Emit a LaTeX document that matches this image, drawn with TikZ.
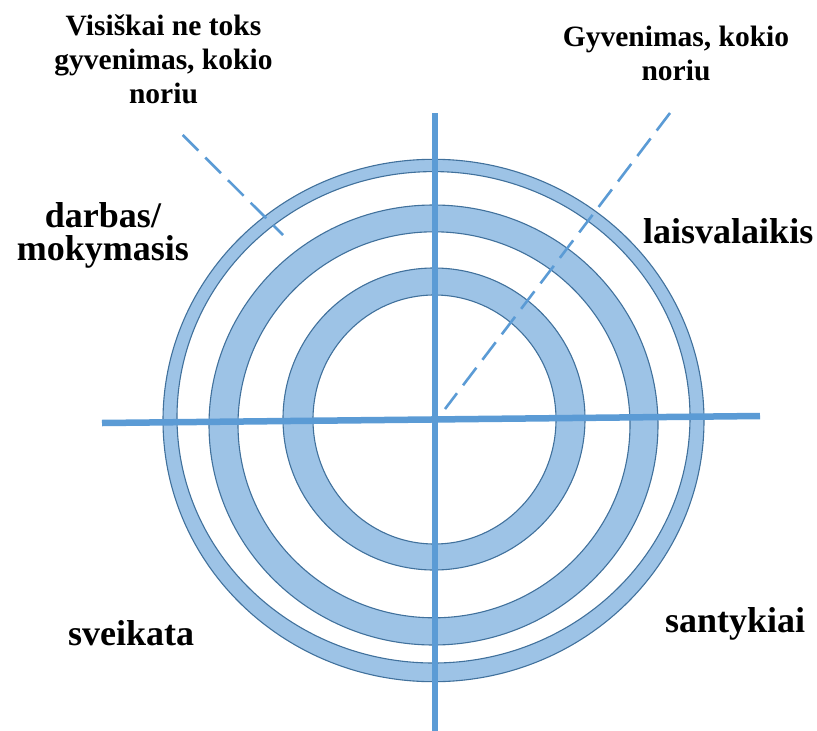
\documentclass[tikz,border=0pt]{standalone}
\usepackage{fontspec}
\setmainfont{Liberation Serif}
\definecolor{axisblue}{HTML}{5B9BD5}
\definecolor{ringfill}{HTML}{9DC3E6}
\definecolor{ringline}{HTML}{41719C}
\begin{document}
\begin{tikzpicture}[x=1pt,y=-1pt]
\tikzset{
  ring/.style={fill=ringfill, draw=ringline, line width=1.1pt, even odd rule},
  axisline/.style={draw=axisblue, line width=6.5pt},
  guide/.style={draw=axisblue, line width=2.6pt, dash pattern=on 22pt off 10pt},
  biglabel/.style={font=\bfseries\fontsize{36}{33}\selectfont, inner sep=0pt, align=center},
  smalllabel/.style={font=\bfseries\fontsize{29.5}{34}\selectfont, inner sep=0pt, align=center},
}
\useasboundingbox (0,0) rectangle (817,731);
% rings
\path[ring] (433.5,420.5) ellipse [x radius=270.5pt, y radius=261.2pt]
            (433.5,417.3) ellipse [x radius=256.5pt, y radius=245.7pt];
\path[ring] (433.5,425) ellipse [x radius=224.5pt, y radius=220pt]
            (434,424.8) ellipse [x radius=196pt, y radius=193pt];
\path[ring] (434,419) ellipse [x radius=151pt, y radius=151pt]
            (434.5,419.5) ellipse [x radius=121.5pt, y radius=124.5pt];
% axes
\coordinate (hl) at (102,423);
\coordinate (hr) at (760,416);
\coordinate (vt) at (435,113);
\coordinate (vb) at (435,731);
\draw[axisline] (hl) -- (hr);
\draw[axisline] (vt) -- (vb);
% dashed guides
\coordinate (g1a) at (182.7,135);
\coordinate (g1b) at (283,235);
\coordinate (g2a) at (670,113);
\coordinate (g2b) at (445,409);
\draw[guide] (g1a) -- (g1b);
\draw[guide] (g2a) -- (g2b);
% labels
\node[smalllabel, anchor=north] (lbad) at (163.5,14.5) {Visiškai ne toks\\gyvenimas, kokio\\noriu};
\node[smalllabel, anchor=north] (lgood) at (676,26) {Gyvenimas, kokio\\noriu};
\node[biglabel, anchor=north] (ldarb) at (103,202) {darbas/\\mokymasis};
\node[biglabel, anchor=base west] (llais) at (643,243) {laisvalaikis};
\node[biglabel, anchor=base west] (lsve) at (68,645) {sveikata};
\node[biglabel, anchor=base west] (lsan) at (665,632) {santykiai};
\end{tikzpicture}
\end{document}
